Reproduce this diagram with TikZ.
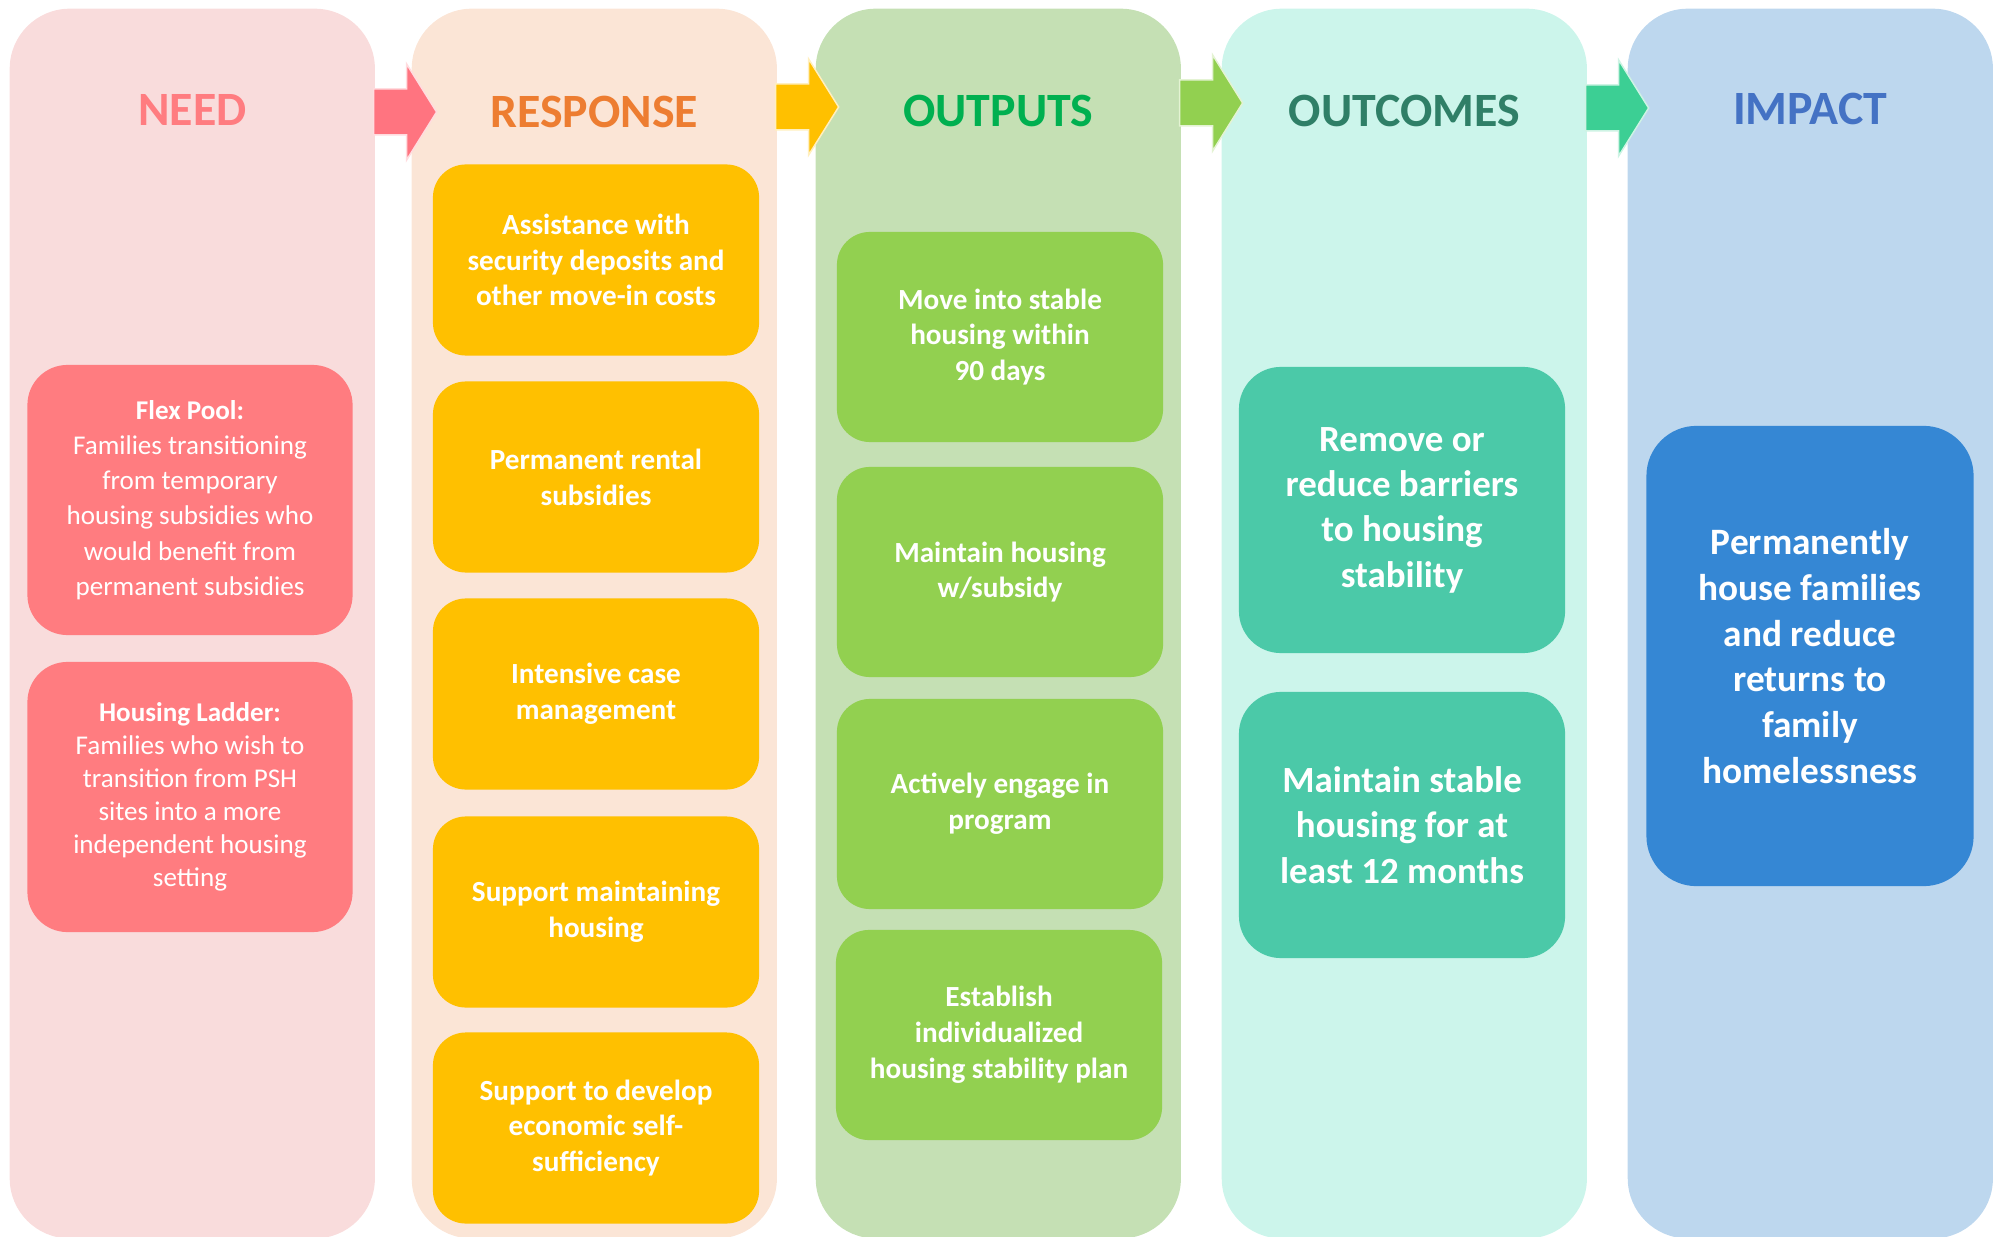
\documentclass[tikz,border=0pt]{standalone}
\usepackage{fontspec}
\setmainfont{Carlito}
\usetikzlibrary{positioning,calc}

\definecolor{needbg}{HTML}{F9DCDC}
\definecolor{respbg}{HTML}{FBE5D6}
\definecolor{outpbg}{HTML}{C5E0B4}
\definecolor{outcbg}{HTML}{CCF5EB}
\definecolor{impbg}{HTML}{BDD7EE}
\definecolor{needfg}{HTML}{FF7C80}
\definecolor{respfg}{HTML}{ED7D31}
\definecolor{outpfg}{HTML}{00B050}
\definecolor{outcfg}{HTML}{2F7F67}
\definecolor{impfg}{HTML}{4472C4}
\definecolor{needbox}{HTML}{FF7C80}
\definecolor{respbox}{HTML}{FFC000}
\definecolor{outpbox}{HTML}{92D050}
\definecolor{outcbox}{HTML}{4BC9A8}
\definecolor{impbox}{HTML}{3587D4}
\definecolor{arrA}{HTML}{FF7480}
\definecolor{arrB}{HTML}{FFC000}
\definecolor{arrC}{HTML}{92D050}
\definecolor{arrD}{HTML}{3CCF94}

\tikzset{
  col/.style={rounded corners=0.6cm, minimum width=3.65cm, minimum height=12.29cm,
    anchor=north west, inner sep=0pt, draw=none},
  head/.style={font=\fontsize{13.6}{16}\selectfont\bfseries, inner sep=0pt},
  card/.style={rounded corners=0.33cm, minimum width=3.26cm, inner sep=0pt,
    text=white, align=center, font=\fontsize{8.3}{10.2}\selectfont\bfseries},
  needcard/.style={card, fill=needbox, rounded corners=0.4cm, minimum width=3.25cm,
    minimum height=2.7cm, font=\fontsize{7.7}{10}\selectfont},
  respcard/.style={card, fill=respbox, minimum height=1.91cm},
  outpcard/.style={card, fill=outpbox, minimum height=2.1cm},
  bigcard/.style={card, rounded corners=0.42cm, font=\fontsize{10.5}{12.9}\selectfont\bfseries}
}

\begin{document}
\begin{tikzpicture}[x=0.01cm,y=-0.01cm]
  \useasboundingbox (0,0) rectangle (2001,1237);
% columns
  \node[col, fill=needbg] (need) at (9,8) {};
  \node[col, fill=respbg] (resp) at (411,8) {};
  \node[col, fill=outpbg] (outp) at (815,8) {};
  \node[col, fill=outcbg] (outc) at (1221,8) {};
  \node[col, fill=impbg] (imp) at (1627,8) {};
% arrows
  \foreach \src/\yc/\clr in {need/112/arrA, resp/107/arrB, outp/103/arrC, outc/108/arrD}{
    \coordinate (s) at (\src.east |- 0,\yc);
    \filldraw[fill=\clr, draw=\clr!25, line width=0.015cm, line join=miter]
      ($(s)+(-2,-23)$) -- ++(33,0) -- ++(0,-25) -- ($(s)+(61,0)$)
      -- ($(s)+(31,48)$) -- ++(0,-25) -- ($(s)+(-2,23)$) -- cycle;
  }
% headers
  \node[head, text=needfg] (needhd) at (need.north |- 0,110) {NEED};
  \node[head, text=respfg] (resphd) at (resp.north |- 0,112) {RESPONSE};
  \node[head, text=outpfg] (outphd) at (outp.north |- 0,111) {OUTPUTS};
  \node[head, text=outcfg] (outchd) at (outc.north |- 0,111) {OUTCOMES};
  \node[head, text=impfg] (imphd) at (imp.north |- 0,109) {IMPACT};
% need
  \node[needcard] (flex) at (190,500) {\textbf{Flex Pool:}\\Families transitioning\\from temporary\\housing subsidies who\\would benefit from\\permanent subsidies};
  \node[needcard, font=\fontsize{7.7}{9.4}\selectfont] (ladder) at (190,797) {\textbf{Housing Ladder:}\\Families who wish to\\transition from PSH\\sites into a more\\independent housing\\setting};
% response
  \node[respcard] (deposits) at (596,260) {Assistance with\\security deposits and\\other move-in costs};
  \node[respcard] (rental) at (596,477) {Permanent rental\\subsidies};
  \node[respcard] (casemgmt) at (596,694) {Intensive case\\management};
  \node[respcard] (supphousing) at (596,912) {Support maintaining\\housing};
  \node[respcard] (selfsuff) at (596,1128) {Support to develop\\economic self-\\sufficiency};
% outputs
  \node[outpcard] (movein) at (1000,337) {Move into stable\\housing within\\90 days};
  \node[outpcard] (maintain) at (1000,572) {Maintain housing\\w/subsidy};
  \node[outpcard] (engage) at (1000,804) {Actively engage in\\program};
  \node[outpcard] (stabplan) at (999,1035) {Establish\\individualized\\housing stability plan};
% outcomes
  \node[bigcard, fill=outcbox, minimum height=2.86cm] (barriers) at (1402,510) {Remove or\\reduce barriers\\to housing\\stability};
  \node[bigcard, fill=outcbox, minimum height=2.66cm] (stable) at (1402,825) {Maintain stable\\housing for at\\least 12 months};
% impact
  \node[bigcard, fill=impbox, rounded corners=0.5cm, minimum width=3.27cm, minimum height=4.6cm,
    font=\fontsize{10.6}{13}\selectfont\bfseries] (impcard) at (1810,656) {Permanently\\house families\\and reduce\\returns to\\family\\homelessness};
\end{tikzpicture}
\end{document}
